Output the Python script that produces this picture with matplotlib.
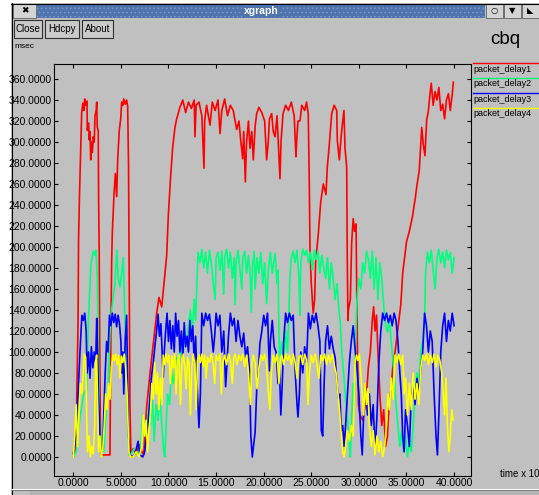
import matplotlib
matplotlib.use('Agg')
import matplotlib.pyplot as plt
from matplotlib.patches import Rectangle
from matplotlib.lines import Line2D

plt.rcParams['font.family'] = ['Liberation Sans', 'DejaVu Sans']
plt.rcParams['hatch.linewidth'] = 0.6

W, H = 539, 495

# packet_delay1 (red)
t1 = [0.0, 0.2, 0.35, 0.5, 0.55, 0.65, 0.78, 0.88, 1.0, 1.1, 1.2, 1.3, 1.44, 1.47, 1.6, 1.68,
      1.75, 1.83, 1.9, 2.0, 2.1, 2.2, 2.28, 2.4, 2.46, 2.52, 2.62, 2.66, 2.72, 2.78, 2.85, 2.95,
      3.85, 3.95, 4.03, 4.1, 4.28, 4.42, 4.56, 4.66, 4.83, 4.98, 5.08, 5.2, 5.3, 5.45, 5.6, 5.71,
      5.8, 5.86, 5.95, 6.05, 6.3, 6.6, 6.9, 7.2, 7.4, 7.5, 7.71, 8.06, 8.4, 8.76, 9.0, 9.29, 9.56,
      9.81, 9.98, 10.23, 10.44, 10.68, 10.86, 11.2, 11.5, 11.8, 12.1, 12.4, 12.7, 12.78, 12.9,
      13.2, 13.5, 13.73, 13.8, 14.0, 14.36, 14.6, 14.9, 15.2, 15.41, 15.6, 15.9, 16.2, 16.5, 16.8,
      17.16, 17.4, 17.6, 17.79, 17.9, 18.07, 18.2, 18.4, 18.56, 18.75, 18.91, 19.1, 19.26, 19.5,
      19.8, 20.1, 20.31, 20.48, 20.6, 20.84, 21.0, 21.19, 21.4, 21.71, 21.82, 22.03, 22.3, 22.6,
      22.9, 23.2, 23.39, 23.47, 23.6, 23.81, 24.0, 24.3, 24.5, 24.68, 24.79, 24.86, 25.0, 25.2,
      25.35, 25.45, 25.6, 25.74, 25.99, 26.26, 26.54, 26.68, 26.86, 27.14, 27.4, 27.67, 27.73,
      27.94, 28.19, 28.43, 28.54, 28.72, 28.78, 28.85, 28.9, 29.1, 29.24, 29.4, 29.55, 29.7,
      29.77, 29.85, 29.95, 30.1, 30.4, 30.6, 30.8, 31.0, 31.2, 31.4, 31.55, 31.7, 31.85, 32.0,
      32.2, 32.4, 32.6, 32.8, 33.0, 33.2, 33.4, 33.6, 33.8, 34.0, 34.2, 34.4, 34.6, 35.0, 35.3,
      35.65, 35.8, 35.89, 36.07, 36.34, 36.6, 36.76, 36.94, 37.12, 37.29, 37.47, 37.6, 37.8,
      38.0, 38.2, 38.4, 38.6, 38.8, 39.0, 39.2, 39.4, 39.6, 39.8, 39.92]
d1 = [0, 5, 50, 130, 206, 249, 292, 328, 337, 330, 341, 335, 339, 311, 318, 302,
      310, 283, 300, 290, 305, 300, 325, 330, 338, 314, 311, 244, 197, 100, 20, 2,
      2, 120, 187, 214, 251, 270, 248, 283, 311, 322, 338, 335, 341, 336, 340, 334,
      279, 194, 50, 3, 8, 3, 12, 5, 2, 20, 48, 80, 108, 137, 152, 143, 168,
      192, 230, 268, 295, 314, 322, 333, 340, 328, 338, 332, 340, 305, 335,
      338, 325, 275, 320, 335, 316, 338, 330, 340, 308, 330, 341, 325, 335, 330,
      312, 320, 300, 284, 310, 262, 300, 320, 294, 310, 283, 315, 327, 333,
      328, 320, 283, 300, 322, 327, 310, 305, 325, 265, 300, 327, 335, 330,
      338, 325, 286, 302, 320, 320, 335, 330, 338, 327, 260, 200, 165, 137,
      150, 185, 200, 213, 243, 260, 250, 276, 294, 327, 335, 330, 302,
      283, 311, 330, 294, 276, 187, 130, 140, 150, 204, 227, 215, 222,
      160, 100, 50, 40, 35, 45, 60, 86, 100, 130, 143, 120, 135, 100,
      60, 30, 45, 10, 20, 55, 67, 90, 100, 115, 130, 145, 175, 205, 215,
      230, 240, 244, 257, 273, 314, 298, 287, 321, 329, 346, 356, 335,
      348, 340, 352, 330, 336, 322, 340, 346, 330, 345, 357]

# packet_delay2 (green)
t2 = [0.0, 0.3, 0.6, 0.9, 1.1, 1.4, 1.58, 1.86, 2.1, 2.28, 2.38, 2.52, 2.63, 2.73, 2.87, 3.0,
      3.2, 3.4, 3.6, 3.86, 4.03, 4.2, 4.38, 4.56, 4.73, 4.9, 5.08, 5.25, 5.36, 5.5, 5.7, 5.85,
      6.0, 6.4, 6.8, 7.1, 7.3, 7.5, 7.7, 7.9, 8.1, 8.3, 8.5, 8.7, 8.9, 9.1, 9.3, 9.5, 9.6, 9.75,
      9.9, 10.1, 10.3, 10.5, 10.7, 10.9, 11.1, 11.3, 11.5, 11.7, 11.9, 12.1, 12.3, 12.5, 12.7,
      12.85, 13.0, 13.1, 13.3, 13.5, 13.7, 13.9, 14.1, 14.3, 14.5, 14.7, 14.9, 15.0, 15.2, 15.4,
      15.6, 15.8, 15.9, 16.1, 16.3, 16.5, 16.7, 16.9, 17.0, 17.1, 17.3, 17.5, 17.7, 17.8, 18.0,
      18.2, 18.4, 18.6, 18.7, 18.8, 19.0, 19.1, 19.3, 19.5, 19.7, 19.9, 20.1, 20.3, 20.5, 20.7,
      20.9, 21.2, 21.4, 21.5, 21.6, 21.7, 21.9, 22.1, 22.3, 22.5, 22.6, 22.75, 22.9, 23.1, 23.3,
      23.5, 23.7, 23.8, 23.9, 24.1, 24.3, 24.5, 24.7, 24.9, 25.1, 25.3, 25.5, 25.7, 25.9, 26.1,
      26.3, 26.5, 26.7, 26.9, 27.1, 27.3, 27.5, 27.7, 27.9, 28.05, 28.2, 28.4, 28.6, 28.8, 29.0,
      29.1, 29.25, 29.4, 29.5, 29.65, 29.8, 30.0, 30.2, 30.4, 30.6, 30.8, 31.0, 31.2, 31.4, 31.6,
      31.8, 32.0, 32.2, 32.4, 32.6, 32.8, 33.0, 33.2, 33.4, 33.6, 33.7, 33.9, 34.1, 34.3, 34.5,
      34.7, 34.9, 35.1, 35.3, 35.5, 35.7, 35.9, 36.1, 36.3, 36.5, 36.7, 36.9, 37.0, 37.2, 37.4,
      37.6, 37.8, 38.0, 38.2, 38.4, 38.6, 38.8, 39.0, 39.2, 39.4, 39.6, 39.8, 40.0]
d2 = [0, 5, 30, 50, 60, 64, 130, 184, 196, 192, 197, 172, 99, 36, 7, 20,
      5, 35, 60, 118, 140, 153, 165, 197, 170, 162, 175, 190, 150, 99, 34, 2,
      2, 8, 3, 12, 40, 25, 20, 45, 30, 55, 15, 50, 35, 60, 30, 5, 0, 30,
      60, 50, 80, 70, 85, 95, 85, 110, 95, 118, 110, 125, 140, 120, 150,
      130, 170, 195, 185, 198, 180, 195, 175, 197, 185, 165, 150, 190, 195, 178,
      196, 155, 190, 198, 180, 195, 170, 190, 145, 185, 197, 178, 160, 190, 196,
      175, 192, 170, 138, 180, 196, 160, 190, 175, 195, 165, 185, 146, 180, 195,
      175, 194, 165, 178, 120, 88, 110, 95, 120, 100, 125, 170, 190, 196, 185,
      197, 170, 135, 185, 198, 192, 197, 185, 195, 178, 197, 188, 196, 175, 192,
      180, 170, 190, 160, 185, 170, 150, 165, 140, 128, 100, 80, 55, 38, 10,
      0, 40, 70, 50, 110, 150, 170, 160, 185, 175, 196, 188, 170, 196, 160,
      190, 150, 185, 170, 145, 125, 119, 130, 110, 90, 82, 50, 30, 10, 25,
      5, 20, 0, 15, 5, 30, 60, 80, 70, 100, 110, 130, 175, 195, 185,
      197, 178, 160, 190, 198, 185, 195, 180, 197, 188, 195, 175, 190]

# packet_delay3 (blue)
t3 = [0.0, 0.3, 0.5, 0.7, 0.9, 1.05, 1.2, 1.35, 1.45, 1.6, 1.75, 1.9, 2.05, 2.2, 2.35, 2.46,
      2.55, 2.65, 2.8, 2.95, 3.1, 3.2, 3.35, 3.5, 3.65, 3.8, 3.95, 4.1, 4.25, 4.4, 4.55, 4.7,
      4.85, 5.0, 5.1, 5.2, 5.3, 5.45, 5.6, 5.7, 5.8, 5.95, 6.2, 6.5, 6.8, 7.0, 7.3, 7.5, 7.7,
      7.85, 8.0, 8.2, 8.4, 8.6, 8.75, 8.9, 9.05, 9.2, 9.35, 9.45, 9.55, 9.7, 9.85, 10.0, 10.15,
      10.3, 10.45, 10.6, 10.75, 10.9, 11.05, 11.2, 11.35, 11.5, 11.65, 11.8, 11.95, 12.1, 12.25,
      12.4, 12.55, 12.7, 12.85, 13.0, 13.2, 13.35, 13.5, 13.7, 13.9, 14.1, 14.3, 14.5, 14.7,
      14.85, 15.0, 15.2, 15.4, 15.6, 15.8, 16.0, 16.15, 16.3, 16.5, 16.7, 16.9, 17.1, 17.3, 17.5,
      17.7, 17.9, 18.1, 18.3, 18.5, 18.65, 18.8, 18.95, 19.1, 19.3, 19.45, 19.6, 19.8, 20.0,
      20.2, 20.4, 20.6, 20.7, 20.9, 21.1, 21.3, 21.5, 21.65, 21.8, 21.95, 22.1, 22.3, 22.5, 22.7,
      22.9, 23.1, 23.3, 23.5, 23.6, 23.75, 23.9, 24.1, 24.3, 24.5, 24.7, 24.9, 25.1, 25.3, 25.5,
      25.7, 25.9, 26.05, 26.2, 26.35, 26.5, 26.7, 26.9, 27.1, 27.3, 27.5, 27.7, 27.85, 28.0,
      28.15, 28.3, 28.45, 28.6, 28.8, 29.0, 29.2, 29.4, 29.6, 29.8, 30.0, 30.2, 30.35, 30.5,
      30.7, 30.9, 31.1, 31.3, 31.5, 31.7, 31.9, 32.1, 32.3, 32.5, 32.7, 32.9, 33.1, 33.3, 33.5,
      33.7, 33.9, 34.1, 34.3, 34.45, 34.6, 34.75, 34.9, 35.1, 35.3, 35.5, 35.7, 35.9, 36.1,
      36.3, 36.5, 36.7, 36.9, 37.1, 37.3, 37.5, 37.7, 37.9, 38.1, 38.25, 38.4, 38.6, 38.8,
      39.0, 39.2, 39.4, 39.6, 39.8, 40.0]
d3 = [3, 20, 60, 100, 135, 130, 137, 120, 80, 100, 75, 105, 85, 100, 90, 132,
      100, 60, 20, 3, 10, 40, 80, 110, 100, 135, 125, 137, 128, 136, 124, 135,
      127, 110, 80, 100, 60, 110, 135, 80, 20, 2, 0, 3, 15, 2, 0, 5, 20,
      32, 50, 76, 90, 108, 120, 136, 115, 127, 95, 76, 100, 120, 137, 110, 130,
      103, 125, 100, 137, 115, 130, 100, 120, 95, 128, 105, 115, 100, 130,
      110, 125, 90, 115, 70, 28, 60, 137, 125, 137, 130, 136, 120, 100,
      115, 137, 125, 135, 100, 120, 67, 90, 115, 137, 125, 132, 110, 130, 115,
      105, 118, 95, 105, 84, 20, 0, 12, 24, 72, 82, 108, 120, 135,
      125, 137, 82, 110, 130, 105, 100, 70, 85, 40, 70, 110, 137, 128, 137,
      130, 135, 82, 50, 38, 60, 100, 80, 105, 90, 137, 122, 135, 128, 137,
      125, 110, 25, 20, 70, 110, 125, 103, 115, 103, 95, 70, 56, 60,
      25, 30, 10, 30, 60, 90, 110, 125, 103, 85, 60, 20, 2, 40,
      67, 40, 60, 30, 50, 5, 40, 90, 120, 137, 130, 137, 128, 135, 125,
      137, 130, 110, 80, 60, 20, 5, 45, 30, 10, 56, 70, 50, 75,
      60, 85, 100, 137, 125, 100, 120, 110, 60, 20, 2, 40, 100, 125,
      137, 110, 130, 120, 137, 125]

# packet_delay4 (yellow)
t4 = [0.0, 0.15, 0.3, 0.45, 0.6, 0.75, 0.9, 1.05, 1.15, 1.3, 1.4, 1.5, 1.65, 1.8, 1.95, 2.1,
      2.25, 2.35, 2.45, 2.55, 2.65, 2.8, 2.95, 3.1, 3.25, 3.4, 3.55, 3.7, 3.85, 4.0, 4.15, 4.3,
      4.45, 4.6, 4.75, 4.9, 5.05, 5.2, 5.35, 5.5, 5.65, 5.75, 5.85, 6.0, 6.3, 6.6, 6.9, 7.2,
      7.35, 7.5, 7.65, 7.8, 7.95, 8.1, 8.25, 8.4, 8.55, 8.7, 8.85, 9.0, 9.15, 9.3, 9.45, 9.6,
      9.75, 9.9, 10.05, 10.2, 10.35, 10.5, 10.65, 10.8, 10.95, 11.1, 11.25, 11.4, 11.55, 11.7,
      11.85, 12.0, 12.15, 12.3, 12.45, 12.6, 12.75, 12.9, 13.05, 13.2, 13.35, 13.5, 13.65, 13.8,
      13.95, 14.1, 14.3, 14.5, 14.7, 14.85, 15.0, 15.2, 15.4, 15.55, 15.7, 15.9, 16.1, 16.3,
      16.5, 16.7, 16.85, 17.0, 17.2, 17.4, 17.6, 17.8, 18.0, 18.2, 18.4, 18.6, 18.75, 18.9, 19.1,
      19.3, 19.5, 19.7, 19.9, 20.1, 20.3, 20.5, 20.65, 20.8, 21.0, 21.2, 21.4, 21.6, 21.75, 21.9,
      22.1, 22.3, 22.5, 22.7, 22.9, 23.1, 23.3, 23.5, 23.7, 23.9, 24.1, 24.3, 24.5, 24.65, 24.8,
      25.0, 25.2, 25.4, 25.6, 25.8, 26.0, 26.2, 26.4, 26.6, 26.8, 27.0, 27.2, 27.4, 27.6, 27.8,
      28.0, 28.15, 28.3, 28.45, 28.6, 28.8, 29.0, 29.2, 29.4, 29.6, 29.75, 29.9, 30.05, 30.2,
      30.35, 30.5, 30.65, 30.8, 30.95, 31.1, 31.3, 31.5, 31.7, 31.9, 32.1, 32.3, 32.5, 32.7,
      32.9, 33.05, 33.2, 33.4, 33.6, 33.8, 34.0, 34.2, 34.4, 34.6, 34.75, 34.9, 35.1, 35.3,
      35.5, 35.7, 35.9, 36.1, 36.3, 36.5, 36.7, 36.9, 37.1, 37.3, 37.5, 37.7, 37.9, 38.1, 38.3,
      38.5, 38.7, 38.85, 39.0, 39.15, 39.3, 39.45, 39.6, 39.75, 39.9]
d4 = [0, 20, 50, 10, 40, 70, 60, 80, 98, 95, 40, 5, 20, 0, 10, 3,
      30, 90, 97, 50, 5, 20, 0, 8, 30, 60, 45, 70, 55, 85, 97, 92,
      98, 88, 97, 75, 96, 90, 98, 85, 60, 30, 5, 0, 0, 5, 0, 10,
      40, 20, 35, 5, 25, 40, 70, 55, 90, 60, 80, 45, 75, 50, 97, 88,
      98, 90, 97, 70, 96, 85, 98, 60, 92, 97, 50, 88, 98, 86,
      65, 95, 90, 40, 85, 98, 88, 45, 92, 97, 90, 98, 86, 97,
      75, 95, 90, 98, 88, 70, 97, 92, 98, 60, 90, 97, 88, 98,
      92, 70, 95, 98, 88, 97, 92, 98, 86, 97, 80, 50, 88, 97, 90,
      65, 85, 97, 92, 98, 88, 60, 45, 80, 97, 90, 98, 70, 95, 97,
      88, 98, 92, 97, 88, 98, 90, 75, 95, 97, 88, 98, 92, 50, 80,
      97, 90, 98, 88, 75, 97, 92, 98, 88, 97, 90, 98, 88, 80, 60,
      40, 20, 5, 0, 10, 25, 15, 30, 20, 90, 97, 92, 98, 80,
      60, 40, 70, 50, 65, 30, 10, 25, 2, 20, 5, 15, 0, 10,
      30, 60, 45, 75, 55, 97, 90, 98, 88, 97, 60, 75, 40, 70,
      45, 80, 55, 70, 50, 85, 97, 92, 98, 88, 97, 90, 98, 86, 97,
      92, 80, 60, 40, 75, 30, 5, 20, 45, 35]

series_t = [t1, t2, t3, t4]
series_d = [d1, d2, d3, d4]
labels = ['packet_delay1', 'packet_delay2', 'packet_delay3', 'packet_delay4']
colors = ['#ff0000', '#00ff7f', '#0000ff', '#ffff00']
xticks = [0, 5, 10, 15, 20, 25, 30, 35, 40]
yticks = list(range(0, 361, 20))

GRAY = '#c0c0c0'


def fx(px):
    return px / W


def fy(py):
    return 1 - py / H


def box(fig, x0, y0, x1, y1, fc, ec='none', lw=0.0, z=1, hatch=None):
    r = Rectangle((fx(x0), fy(y1)), fx(x1) - fx(x0), fy(y0) - fy(y1),
                  transform=fig.transFigure, fc=fc, ec=ec, lw=lw, zorder=z, hatch=hatch)
    fig.add_artist(r)


def hline(fig, x0, x1, py, color, lw=1.0):
    fig.add_artist(Line2D([fx(x0), fx(x1)], [fy(py), fy(py)], transform=fig.transFigure,
                          color=color, lw=lw))


fig = plt.figure(figsize=(W / 100, H / 100), dpi=100)
fig.patch.set_facecolor('white')

# window body + border (behind the axes)
box(fig, 11, 3, 539, 495, GRAY, z=-10)
fig.add_artist(Line2D([fx(11.5), fx(11.5)], [0, fy(3)], transform=fig.transFigure, color='black', lw=0.8))
hline(fig, 11, 539, 3.5, 'black', 0.8)

# title bar (dotted blue pattern)
box(fig, 37, 4, 485, 18, '#4f73ad', ec='#7c9ad0', lw=0, hatch='....')
fig.text(fx(261), fy(11), 'xgraph', color='white', fontsize=7.5, fontweight='bold',
         ha='center', va='center',
         bbox=dict(fc='#4f73ad', ec='none', pad=1.0))
box(fig, 13, 4.5, 36, 17.5, '#d4d4d4', '#606060', 0.6)
fig.text(fx(24.5), fy(11), '\u2716', family='DejaVu Sans', fontsize=6.5, ha='center', va='center')
for x0, glyph in [(486, '\u25cb'), (504, '\u25bc'), (522, '\u25e3')]:
    box(fig, x0, 4.5, x0 + 17, 17.5, '#d4d4d4', '#606060', 0.6)
    fig.text(fx(x0 + 8.5), fy(11), glyph, family='DejaVu Sans', fontsize=6, ha='center', va='center')

# buttons
for x0, x1, name in [(14, 42, 'Close'), (45, 79, 'Hdcpy'), (82, 113, 'About')]:
    box(fig, x0, 20, x1, 38, '#cacaca', '#303030', 0.8)
    fig.text(fx((x0 + x1) / 2), fy(29), name, fontsize=7, ha='center', va='center')

fig.text(fx(14), fy(46), 'msec', fontsize=6, ha='left', va='center')
fig.text(fx(490), fy(39), 'cbq', fontsize=13.5, ha='left', va='center')
fig.text(fx(500), fy(474), 'time x 10', fontsize=7, ha='left', va='center')

# bottom strip
hline(fig, 11, 539, 488.5, '#ffffff', 0.8)
hline(fig, 11, 539, 489.5, '#808080', 0.8)
box(fig, 30, 490, 539, 495, '#b4b4b4')

# plot area
ax = fig.add_axes([fx(54), fy(476), fx(471) - fx(54), fy(64) - fy(476)])
ax.set_facecolor(GRAY)
for t, d, c in zip(series_t, series_d, colors):
    ax.plot(t, d, color=c, lw=1.2)

ax.set_xlim((54 - 73.3) / 9.52, (471 - 73.3) / 9.52)
ax.set_ylim((457 - 476) / 1.05, (457 - 64) / 1.05)
ax.set_xticks(xticks)
ax.set_yticks(yticks)
ax.set_xticklabels(['%.4f' % v for v in xticks])
ax.set_yticklabels(['%.4f' % v for v in yticks])
ax.tick_params(direction='in', length=3, width=0.8, color='black', top=True, right=True,
               labelsize=7.5, pad=1.5)
for side in ['left', 'right', 'top', 'bottom']:
    ax.spines[side].set_linestyle((0, (1, 1)))
    ax.spines[side].set_linewidth(0.8)
# zero marks are white
xt0 = ax.xaxis.get_major_ticks()[0]
yt0 = ax.yaxis.get_major_ticks()[0]
for tk in (xt0, yt0):
    tk.tick1line.set_color('white')
    tk.tick2line.set_color('white')

# legend on the right
for i, (name, c) in enumerate(zip(labels, colors)):
    py_line = 63 + i * 15
    hline(fig, 473, 539, py_line, c, 1.0)
    fig.text(fx(473), fy(py_line + 6), name, fontsize=6.5, ha='left', va='center')

fig.savefig('out.png', dpi=100, facecolor=fig.get_facecolor())
